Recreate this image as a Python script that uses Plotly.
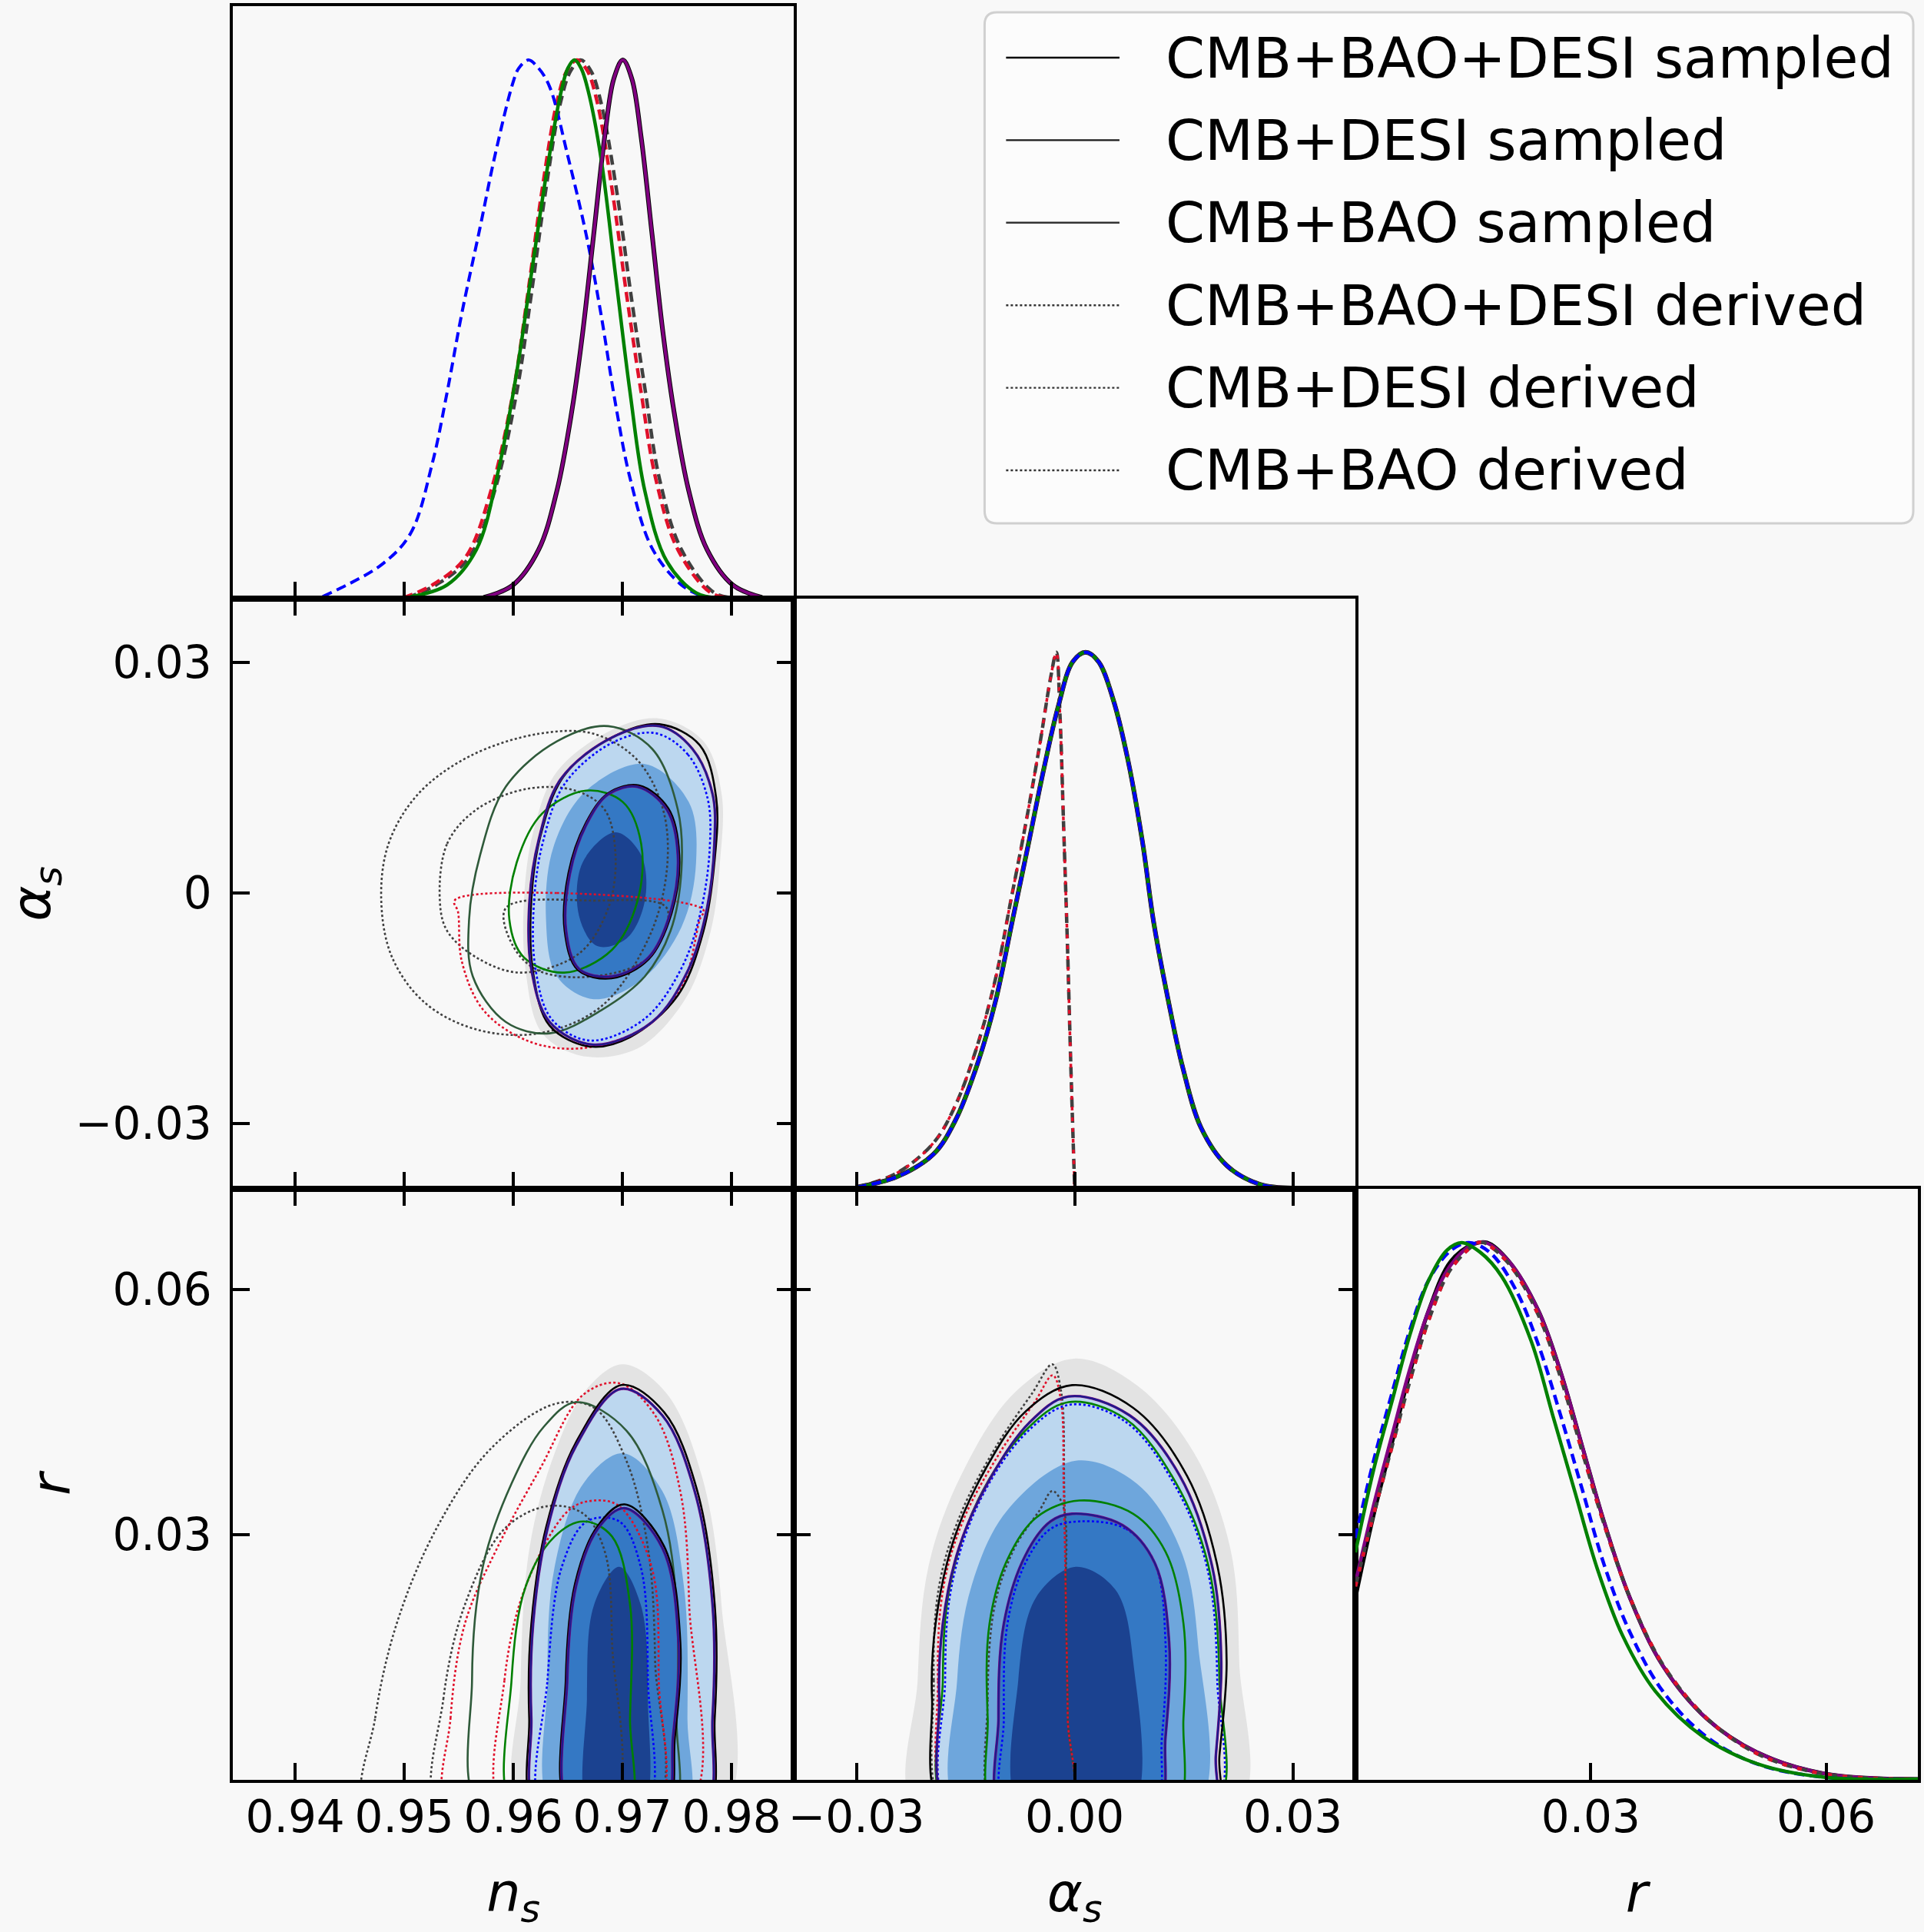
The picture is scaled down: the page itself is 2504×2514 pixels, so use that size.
import plotly.graph_objects as go

# ---------------- axes ----------------
ns_range = [0.9343, 0.9857]
as_range_x = [-0.0386, 0.0386]
as_range_y = [-0.0385, 0.0383]
r_range_x = [0.0, 0.0717]
r_range_y = [0.0, 0.0723]
pdf_range = [0.0, 1.1]

ns_tickvals = [0.94, 0.95, 0.96, 0.97, 0.98]
ns_ticktext = ["0.94", "0.95", "0.96", "0.97", "0.98"]
as_tickvals = [-0.03, 0.0, 0.03]
as_ticktext_x = ["\u22120.03", "0.00", "0.03"]
as_ticktext_y = ["\u22120.03", "0", "0.03"]
r_tickvals = [0.03, 0.06]
r_ticktext = ["0.03", "0.06"]

legend_labels = ["CMB+BAO+DESI sampled", "CMB+DESI sampled", "CMB+BAO sampled",
                 "CMB+BAO+DESI derived", "CMB+DESI derived", "CMB+BAO derived"]

# ---------------- 1D marginals: n_s ----------------
ns_blue_x = [0.94252, 0.94789, 0.95057, 0.95258, 0.95393, 0.95527, 0.95695, 0.95829, 0.95997, 0.96050, 0.96138,
             0.96230, 0.96332, 0.96500, 0.96668, 0.96802, 0.96936, 0.97070, 0.97272, 0.97540, 0.97742]
ns_blue_p = [0.004, 0.0627, 0.1210, 0.2522, 0.3834, 0.5292, 0.6895, 0.8207, 0.9585, 0.985, 1.0,
             0.985, 0.9504, 0.8207, 0.6749, 0.5292, 0.3615, 0.2230, 0.0933, 0.0255, 0.0036]
ns_green_x = [0.95057, 0.95393, 0.95661, 0.95862, 0.96030, 0.96164, 0.96299, 0.96433, 0.96500, 0.96560,
              0.96620, 0.96685, 0.96802, 0.96936, 0.97070, 0.97205, 0.97406, 0.97674, 0.97876]
ns_green_p = [0.0036, 0.0255, 0.0910, 0.2376, 0.4198, 0.6020, 0.7843, 0.9373, 0.985, 1.0,
              0.985, 0.9431, 0.8192, 0.6006, 0.3819, 0.1997, 0.0693, 0.0109, 0.0015]
ns_red_x = [0.94990, 0.95258, 0.95560, 0.95795, 0.95997, 0.96131, 0.96265, 0.96399, 0.96490, 0.96584,
            0.96678, 0.96768, 0.96903, 0.97037, 0.97171, 0.97305, 0.97507, 0.97809, 0.98010]
ns_red_p = [0.0015, 0.0255, 0.0765, 0.2005, 0.3827, 0.5649, 0.7617, 0.9219, 0.980, 1.0,
            0.980, 0.9219, 0.7617, 0.5649, 0.3827, 0.2223, 0.0911, 0.0109, 0.0015]
ns_grey_x = [0.95023, 0.95292, 0.95594, 0.95829, 0.96030, 0.96164, 0.96299, 0.96433, 0.96525, 0.96617,
             0.96710, 0.96802, 0.96943, 0.97077, 0.97211, 0.97339, 0.97540, 0.97842, 0.98044]
ns_grey_p = [0.0015, 0.0255, 0.0765, 0.2005, 0.3827, 0.5649, 0.7617, 0.9219, 0.980, 1.0,
             0.980, 0.9219, 0.7617, 0.5649, 0.3827, 0.2223, 0.0911, 0.0109, 0.0015]
ns_black_x = [0.95728, 0.95997, 0.96232, 0.96399, 0.96534, 0.96634, 0.96735, 0.96836, 0.96920, 0.97003,
              0.97086, 0.97171, 0.97272, 0.97372, 0.97473, 0.97607, 0.97775, 0.98010, 0.98279]
ns_black_p = [0.0022, 0.0255, 0.0911, 0.2004, 0.3462, 0.4920, 0.6742, 0.8564, 0.965, 1.0,
              0.965, 0.8564, 0.6742, 0.4920, 0.3462, 0.2004, 0.0911, 0.0255, 0.0022]

# ---------------- 1D marginals: alpha_s ----------------
as_main_x = [-0.03000, -0.02445, -0.01941, -0.01639, -0.01336, -0.01084, -0.00857, -0.00630, -0.00429,
             -0.00227, -0.00025, 0.00151, 0.00328, 0.00529, 0.00731, 0.00933, 0.01084, 0.01286,
             0.01487, 0.01739, 0.02092, 0.02546, 0.03000]
as_main_p = [0.0028, 0.0224, 0.0645, 0.1275, 0.2327, 0.3518, 0.4989, 0.6461, 0.7793,
             0.8984, 0.9825, 1.0, 0.9825, 0.9124, 0.8003, 0.6461, 0.4989, 0.3518,
             0.2256, 0.1135, 0.0434, 0.0084, 0.0014]
as_cut_x = [-0.03000, -0.02445, -0.01941, -0.01639, -0.01336, -0.01084, -0.00882, -0.00681,
            -0.00479, -0.00328, -0.00252, -0.00202, -0.00151, -0.00101, -0.00050, 0.0]
as_cut_p = [0.0028, 0.0294, 0.0855, 0.1556, 0.2677, 0.3938, 0.5340, 0.6741,
            0.8283, 0.9544, 1.0, 0.8844, 0.6741, 0.4639, 0.2186, 0.0028]

# ---------------- 1D marginals: r ----------------
r_green_x = [0.0, 0.00233, 0.00466, 0.00700, 0.00933, 0.01166, 0.01353, 0.01586, 0.01866, 0.02239,
             0.02519, 0.02798, 0.03078, 0.03405, 0.03824, 0.04431, 0.05130, 0.05970, 0.07182]
r_green_p = [0.4233, 0.5781, 0.7046, 0.8312, 0.9297, 0.9859, 1.0, 0.9825, 0.9367, 0.8172,
             0.6765, 0.5359, 0.3952, 0.2687, 0.1646, 0.0802, 0.0295, 0.0049, 0.0014]
r_blue_x = [0.0, 0.00233, 0.00466, 0.00700, 0.00933, 0.01213, 0.01446, 0.01726, 0.02052, 0.02332,
            0.02612, 0.02892, 0.03171, 0.03498, 0.03918, 0.04477, 0.05130, 0.05970, 0.07182]
r_blue_p = [0.4500, 0.5950, 0.7200, 0.8400, 0.9300, 0.9850, 1.0, 0.9800, 0.9100, 0.8100,
            0.6800, 0.5400, 0.4000, 0.2750, 0.1650, 0.0800, 0.0290, 0.0050, 0.0010]
r_black_x = [0.0, 0.00233, 0.00466, 0.00700, 0.00933, 0.01213, 0.01493, 0.01679, 0.01959, 0.02332,
             0.02612, 0.02892, 0.03171, 0.03498, 0.03918, 0.04477, 0.05130, 0.05970, 0.07182]
r_black_p = [0.3390, 0.4937, 0.6273, 0.7609, 0.8734, 0.9648, 0.9965, 1.0, 0.9648, 0.8734,
             0.7609, 0.6203, 0.4796, 0.3390, 0.2124, 0.1139, 0.0506, 0.0120, 0.0014]
r_purple_x = [0.0, 0.00233, 0.00466, 0.00700, 0.00933, 0.01213, 0.01493, 0.01656, 0.01959, 0.02332,
              0.02612, 0.02892, 0.03171, 0.03498, 0.03918, 0.04477, 0.05130, 0.05970, 0.07182]
r_purple_p = [0.3671, 0.5120, 0.6414, 0.7679, 0.8734, 0.9578, 0.9965, 1.0, 0.9648, 0.8734,
              0.7609, 0.6203, 0.4796, 0.3390, 0.2124, 0.1139, 0.0506, 0.0120, 0.0014]
r_red_x = [0.0, 0.00233, 0.00466, 0.00700, 0.00933, 0.01213, 0.01539, 0.01633, 0.01959, 0.02332,
           0.02612, 0.02892, 0.03171, 0.03498, 0.03918, 0.04477, 0.05130, 0.05970, 0.07182]
r_red_p = [0.3600, 0.4950, 0.6200, 0.7450, 0.8550, 0.9500, 0.9980, 1.0, 0.9600, 0.8650,
           0.7500, 0.6100, 0.4750, 0.3400, 0.2150, 0.1150, 0.0480, 0.0110, 0.0014]

# ---------------- 2D: n_s vs alpha_s ----------------
na_halo_ns = [0.97339, 0.97742, 0.97909, 0.97893, 0.97809, 0.97574, 0.97138, 0.96634, 0.96265, 0.96114, 0.96097, 0.96181, 0.96399, 0.96903]
na_halo_as = [0.02270, 0.01974, 0.01283, 0.00395, -0.00493, -0.01382, -0.02023, -0.02122, -0.01826, -0.01036, -0.00099, 0.00789, 0.01579, 0.02122]
na_navy95_ns = [0.97339, 0.97641, 0.97826, 0.97842, 0.97775, 0.97607, 0.97272, 0.96735, 0.96332, 0.96164, 0.96148, 0.96232, 0.96433, 0.96903]
na_navy95_as = [0.02171, 0.01875, 0.01283, 0.00641, -0.00197, -0.00987, -0.01678, -0.01974, -0.01678, -0.00987, -0.00099, 0.00691, 0.01480, 0.02023]
na_mid_ns = [0.97205, 0.97607, 0.97674, 0.97540, 0.97171, 0.96735, 0.96399, 0.96299, 0.96366, 0.96668]
na_mid_as = [0.01678, 0.01184, 0.00395, -0.00444, -0.01135, -0.01382, -0.01085, -0.00345, 0.00592, 0.01332]
na_navy68_ns = [0.97138, 0.97406, 0.97507, 0.97440, 0.97238, 0.96903, 0.96601, 0.96483, 0.96517, 0.96668, 0.96869]
na_navy68_as = [0.01382, 0.01085, 0.00493, -0.00247, -0.00839, -0.01085, -0.00987, -0.00493, 0.00247, 0.00888, 0.01283]
na_core_ns = [0.96936, 0.97171, 0.97205, 0.97037, 0.96768, 0.96601, 0.96634]
na_core_as = [0.00789, 0.00493, -0.00099, -0.00592, -0.00691, -0.00296, 0.00395]
na_black95_ns = [0.97339, 0.97708, 0.97859, 0.97842, 0.97742, 0.97507, 0.97070, 0.96701, 0.96332, 0.96181, 0.96164, 0.96248, 0.96466, 0.96936]
na_black95_as = [0.02196, 0.01924, 0.01233, 0.00395, -0.00493, -0.01332, -0.01875, -0.01998, -0.01727, -0.01036, -0.00099, 0.00740, 0.01529, 0.02048]
na_black68_ns = [0.97150, 0.97420, 0.97520, 0.97450, 0.97240, 0.96900, 0.96590, 0.96470, 0.96505, 0.96660, 0.96870]
na_black68_as = [0.01400, 0.01100, 0.00493, -0.00260, -0.00860, -0.01110, -0.01000, -0.00493, 0.00260, 0.00900, 0.01300]
na_green95_ns = [0.96869, 0.97272, 0.97507, 0.97540, 0.97440, 0.97205, 0.96802, 0.96332, 0.95930, 0.95628, 0.95594, 0.95695, 0.95930, 0.96399]
na_green95_as = [0.02171, 0.01875, 0.01085, 0.00296, -0.00493, -0.01085, -0.01529, -0.01826, -0.01678, -0.01085, -0.00345, 0.00493, 0.01382, 0.01973]
na_green68_ns = [0.96668, 0.97003, 0.97171, 0.97138, 0.96903, 0.96466, 0.96097, 0.95963, 0.96030, 0.96265]
na_green68_as = [0.01332, 0.01184, 0.00641, -0.00099, -0.00740, -0.01036, -0.00839, -0.00345, 0.00395, 0.01036]
na_grey95_ns = [0.94789, 0.94856, 0.95124, 0.95594, 0.96232, 0.96735, 0.97138, 0.97372, 0.97406, 0.97238, 0.96802, 0.96232, 0.95661, 0.95191, 0.94889]
na_grey95_as = [-0.00099, 0.00641, 0.01283, 0.01776, 0.02072, 0.02072, 0.01727, 0.01085, 0.00296, -0.00592, -0.01480, -0.01826, -0.01776, -0.01431, -0.00839]
na_grey68_ns = [0.95326, 0.95393, 0.95661, 0.96131, 0.96567, 0.96836, 0.96936, 0.96869, 0.96601, 0.96064, 0.95661, 0.95393]
na_grey68_as = [-0.00099, 0.00641, 0.01085, 0.01357, 0.01332, 0.01085, 0.00493, -0.00197, -0.00789, -0.01036, -0.00839, -0.00493]
na_red95_ns = [0.95460, 0.96399, 0.97742, 0.97708, 0.97540, 0.97171, 0.96601, 0.96131, 0.95728, 0.95527, 0.95493]
na_red95_as = [-0.00099, 0.0, -0.00222, -0.00345, -0.01233, -0.01776, -0.02023, -0.01924, -0.01529, -0.00888, -0.00247]
na_red68_ns = [0.95930, 0.96735, 0.97406, 0.97238, 0.96735, 0.96232, 0.95997]
na_red68_as = [-0.00197, -0.00099, -0.00197, -0.00839, -0.01085, -0.01011, -0.00691]
na_blue95_ns = [0.97300, 0.97600, 0.97780, 0.97800, 0.97720, 0.97540, 0.97200, 0.96700, 0.96350, 0.96200, 0.96190, 0.96270, 0.96470, 0.96900]
na_blue95_as = [0.02080, 0.01800, 0.01230, 0.00600, -0.00220, -0.00980, -0.01640, -0.01920, -0.01640, -0.00960, -0.00100, 0.00660, 0.01420, 0.01950]

# ---------------- 2D: n_s vs r ----------------
nr_halo_ns = [0.97003, 0.97398, 0.97727, 0.97907, 0.97907, 0.96082, 0.96066, 0.96148, 0.96378, 0.96674]
nr_halo_r = [0.05084, 0.04737, 0.03718, 0.02144, -0.004, -0.004, 0.01218, 0.02838, 0.03996, 0.04783]
nr_navy95_ns = [0.96986, 0.97365, 0.97661, 0.97825, 0.97825, 0.97727, 0.96246, 0.96164, 0.96181, 0.96312, 0.96575]
nr_navy95_r = [0.04783, 0.04459, 0.03533, 0.02144, 0.00755, -0.004, -0.004, 0.00755, 0.01912, 0.03070, 0.04088]
nr_mid_ns = [0.97003, 0.97365, 0.97562, 0.97595, 0.97562, 0.96378, 0.96312, 0.96378, 0.96641]
nr_mid_r = [0.03996, 0.03533, 0.02375, 0.00755, -0.004, -0.004, 0.01218, 0.02607, 0.03625]
nr_navy68_ns = [0.97019, 0.97365, 0.97513, 0.97463, 0.97365, 0.96542, 0.96493, 0.96575, 0.96773]
nr_navy68_r = [0.03324, 0.02838, 0.01681, 0.00523, -0.004, -0.004, 0.01218, 0.02375, 0.03070]
nr_core_ns = [0.96970, 0.97167, 0.97233, 0.97167, 0.96707, 0.96674, 0.96740]
nr_core_r = [0.02607, 0.02144, 0.00986, -0.004, -0.004, 0.00986, 0.02144]
nr_black95_ns = [0.96990, 0.97380, 0.97680, 0.97845, 0.97845, 0.97745, 0.96225, 0.96145, 0.96165, 0.96300, 0.96570]
nr_black95_r = [0.04830, 0.04500, 0.03560, 0.02144, 0.00755, -0.004, -0.004, 0.00755, 0.01912, 0.03090, 0.04120]
nr_black68_ns = [0.97019, 0.97380, 0.97530, 0.97480, 0.97380, 0.96530, 0.96480, 0.96565, 0.96770]
nr_black68_r = [0.03370, 0.02860, 0.01681, 0.00523, -0.004, -0.004, 0.01218, 0.02400, 0.03100]
nr_green95_ns = [0.96575, 0.97036, 0.97365, 0.97496, 0.97496, 0.97430, 0.95720, 0.95621, 0.95720, 0.95983, 0.96279]
nr_green95_r = [0.04621, 0.04273, 0.03301, 0.02144, 0.00755, -0.004, -0.004, 0.01218, 0.02607, 0.03625, 0.04320]
nr_green68_ns = [0.96641, 0.96904, 0.97069, 0.97069, 0.97036, 0.96016, 0.95983, 0.96115, 0.96378]
nr_green68_r = [0.03162, 0.02977, 0.02144, 0.00755, -0.004, -0.004, 0.01218, 0.02375, 0.02977]
nr_grey95_ns = [0.94668, 0.94733, 0.94931, 0.95293, 0.95786, 0.96378, 0.96740, 0.97036, 0.97233, 0.97299, 0.97266]
nr_grey95_r = [-0.004, 0.00755, 0.01912, 0.03070, 0.04042, 0.04598, 0.04551, 0.03903, 0.02838, 0.01449, -0.004]
nr_grey68_ns = [0.95325, 0.95358, 0.95556, 0.95918, 0.96312, 0.96641, 0.96838, 0.96904, 0.96871]
nr_grey68_r = [-0.004, 0.00986, 0.02144, 0.03070, 0.03348, 0.03255, 0.02792, 0.01681, -0.004]
nr_red95_ns = [0.95424, 0.95424, 0.95556, 0.95852, 0.96246, 0.96641, 0.96970, 0.97299, 0.97529, 0.97611, 0.97578]
nr_red95_r = [-0.004, 0.00755, 0.01912, 0.02838, 0.03810, 0.04713, 0.04852, 0.04459, 0.03533, 0.02144, -0.004]
nr_red68_ns = [0.95918, 0.95918, 0.96115, 0.96510, 0.96740, 0.96970, 0.97266, 0.97332, 0.97299]
nr_red68_r = [-0.004, 0.01218, 0.02375, 0.03301, 0.03417, 0.03348, 0.02607, 0.01218, -0.004]
nr_blue68_ns = [0.96279, 0.96312, 0.96444, 0.96674, 0.96970, 0.97167, 0.97233, 0.97200]
nr_blue68_r = [-0.004, 0.01218, 0.02607, 0.03162, 0.03162, 0.02607, 0.01218, -0.004]

# ---------------- 2D: alpha_s vs r ----------------
ar_halo_as = [-0.00010, 0.00854, 0.01644, 0.02138, 0.02262, 0.02212, -0.02158, -0.02158, -0.02010, -0.01565, -0.00825]
ar_halo_r = [0.05153, 0.04829, 0.03996, 0.02838, 0.01449, -0.004, -0.004, 0.01218, 0.02607, 0.03718, 0.04737]
ar_navy95_as = [-0.00084, 0.00756, 0.01447, 0.01891, 0.02015, 0.01941, 0.01867, -0.01689, -0.01862, -0.01812, -0.01590, -0.01170, -0.00627]
ar_navy95_r = [0.04690, 0.04459, 0.03718, 0.02607, 0.01449, 0.00292, -0.004, -0.004, 0.00986, 0.01912, 0.02838, 0.03672, 0.04366]
ar_mid_as = [0.00015, 0.00854, 0.01447, 0.01694, 0.01644, -0.01565, -0.01615, -0.01417, -0.00923]
ar_mid_r = [0.03903, 0.03625, 0.02838, 0.01681, -0.004, -0.004, 0.01218, 0.02375, 0.03301]
ar_navy68_as = [-0.00035, 0.00657, 0.01101, 0.01299, 0.01249, 0.01101, -0.00973, -0.01047, -0.00973, -0.00677, -0.00331]
ar_navy68_r = [0.03255, 0.03116, 0.02653, 0.01681, 0.00523, -0.004, -0.004, 0.00755, 0.01912, 0.02746, 0.03162]
ar_core_as = [0.00015, 0.00558, 0.00805, 0.00756, -0.00726, -0.00775, -0.00528]
ar_core_r = [0.02607, 0.02329, 0.01449, -0.004, -0.004, 0.01218, 0.02236]
ar_black95_as = [-0.00035, 0.00805, 0.01546, 0.01965, 0.02089, 0.01990, 0.01916, -0.01763, -0.01960, -0.01911, -0.01664, -0.01220, -0.00677]
ar_black95_r = [0.04829, 0.04551, 0.03718, 0.02607, 0.01449, 0.00292, -0.004, -0.004, 0.00986, 0.01912, 0.02931, 0.03810, 0.04505]
ar_green95_as = [-0.00084, 0.00706, 0.01397, 0.01842, 0.01990, 0.01891, -0.01714, -0.01812, -0.01714, -0.01318, -0.00677]
ar_green95_r = [0.04621, 0.04412, 0.03625, 0.02607, 0.01218, -0.004, -0.004, 0.01218, 0.02375, 0.03440, 0.04273]
ar_green68_as = [0.00064, 0.00805, 0.01249, 0.01496, 0.01496, 0.01348, -0.01072, -0.01195, -0.01170, -0.00923, -0.00528]
ar_green68_r = [0.03417, 0.03255, 0.02792, 0.01912, 0.00755, -0.004, -0.004, 0.00755, 0.01912, 0.02699, 0.03209]
ar_grey95_as = [-0.01763, -0.01936, -0.01862, -0.01565, -0.01072, -0.00578, -0.00306, -0.00183, -0.00143, -0.00119, -0.00094, -0.00084]
ar_grey95_r = [-0.004, 0.01218, 0.02375, 0.03255, 0.04088, 0.04737, 0.05084, 0.04737, 0.03533, 0.02144, 0.00755, -0.004]
ar_grey68_as = [-0.01096, -0.01195, -0.01096, -0.00825, -0.00479, -0.00306, -0.00158, -0.00123, -0.00094, -0.00084]
ar_grey68_r = [-0.004, 0.00986, 0.02144, 0.02838, 0.03301, 0.03533, 0.03348, 0.02144, 0.00755, -0.004]
ar_red95_as = [-0.01714, -0.01880, -0.01800, -0.01520, -0.01030, -0.00550, -0.00300, -0.00190, -0.00150, -0.00120, -0.00095, -0.00085]
ar_red95_r = [-0.004, 0.01218, 0.02375, 0.03200, 0.04000, 0.04620, 0.04950, 0.04650, 0.03533, 0.02144, 0.00755, -0.004]
ar_blue95_as = [-0.00060, 0.00700, 0.01380, 0.01820, 0.01960, 0.01870, -0.01690, -0.01780, -0.01690, -0.01300, -0.00660]
ar_blue95_r = [0.04590, 0.04380, 0.03600, 0.02600, 0.01218, -0.004, -0.004, 0.01218, 0.02375, 0.03420, 0.04250]
ar_blue68_as = [0.00064, 0.00706, 0.01101, 0.01249, 0.01200, 0.01052, -0.00923, -0.00973, -0.00923, -0.00677, -0.00331]
ar_blue68_r = [0.03162, 0.03070, 0.02653, 0.01681, 0.00523, -0.004, -0.004, 0.00755, 0.01912, 0.02653, 0.03070]

# ---------------- styling ----------------
FONT = "DejaVu Sans"
BG = "#f8f8f8"
BLACK, PURPLE, GREEN = "#000000", "#800080", "#008000"
NAVY, BLUE, RED, GREY = "#1c1c8c", "#0000ff", "#e0102a", "#404040"
SHADES = ["#e3e3e3", "#bcd7ef", "#6ea6dc", "#3478c4", "#1b4290"]

P11, P21, P22 = ("x", "y"), ("x2", "y2"), ("x3", "y3")
P31, P32, P33 = ("x4", "y4"), ("x5", "y5"), ("x6", "y6")

fig = go.Figure()


def ring(xs, ys):
    return list(xs) + [xs[0]], list(ys) + [ys[0]]


def curve(xs, ys, ax, color, width, dash="solid"):
    fig.add_trace(go.Scatter(x=xs, y=ys, xaxis=ax[0], yaxis=ax[1], mode="lines",
                             line=dict(color=color, width=width, dash=dash, shape="spline"),
                             hoverinfo="skip", showlegend=False))


def contour(xs, ys, ax, color, dash="solid", width=2.6):
    cx, cy = ring(xs, ys)
    curve(cx, cy, ax, color, width, dash)


def shade(xs, ys, ax, color):
    cx, cy = ring(xs, ys)
    fig.add_trace(go.Scatter(x=cx, y=cy, xaxis=ax[0], yaxis=ax[1], mode="lines",
                             fill="toself", fillcolor=color,
                             line=dict(width=0, shape="spline", color=color),
                             hoverinfo="skip", showlegend=False))


DASH = "13px,7px"
DOT = "3px,3px"

# 1D n_s
curve(ns_grey_x, ns_grey_p, P11, GREY, 4.5, DASH)
curve(ns_red_x, ns_red_p, P11, RED, 4.5, DASH)
curve(ns_blue_x, ns_blue_p, P11, BLUE, 4, DASH)
curve(ns_black_x, ns_black_p, P11, BLACK, 6)
curve(ns_green_x, ns_green_p, P11, GREEN, 4.5)
curve(ns_black_x, ns_black_p, P11, PURPLE, 4)

# 1D alpha_s
curve(as_cut_x, as_cut_p, P22, GREY, 4.5, DASH)
curve(as_cut_x, as_cut_p, P22, RED, 3.5, "5px,9px")
curve(as_main_x, as_main_p, P22, BLACK, 6)
curve(as_main_x, as_main_p, P22, PURPLE, 5)
curve(as_main_x, as_main_p, P22, GREEN, 4.5)
curve(as_main_x, as_main_p, P22, BLUE, 4, DASH)

# 1D r
curve(r_black_x, r_black_p, P33, BLACK, 5)
curve(r_purple_x, r_purple_p, P33, PURPLE, 4.5)
curve(r_red_x, r_red_p, P33, GREY, 4.5, DASH)
curve(r_red_x, r_red_p, P33, RED, 4.5, "6px,14px")
curve(r_blue_x, r_blue_p, P33, BLUE, 4.5, DASH)
curve(r_green_x, r_green_p, P33, GREEN, 4.5)

# 2D n_s - alpha_s
for (xs, ys), col in zip([(na_halo_ns, na_halo_as), (na_navy95_ns, na_navy95_as), (na_mid_ns, na_mid_as),
                          (na_navy68_ns, na_navy68_as), (na_core_ns, na_core_as)], SHADES):
    shade(xs, ys, P21, col)
contour(na_grey95_ns, na_grey95_as, P21, GREY, DOT)
contour(na_grey68_ns, na_grey68_as, P21, GREY, DOT)
contour(na_red95_ns, na_red95_as, P21, RED, DOT)
contour(na_red68_ns, na_red68_as, P21, GREY, DOT)
contour(na_blue95_ns, na_blue95_as, P21, BLUE, DOT)
contour(na_green95_ns, na_green95_as, P21, "#2f5a3a")
contour(na_green68_ns, na_green68_as, P21, GREEN)
contour(na_black95_ns, na_black95_as, P21, BLACK)
contour(na_black68_ns, na_black68_as, P21, BLACK)
contour(na_navy95_ns, na_navy95_as, P21, PURPLE, width=3.4)
contour(na_navy68_ns, na_navy68_as, P21, PURPLE, width=3.4)
contour(na_navy95_ns, na_navy95_as, P21, NAVY, width=2.2)
contour(na_navy68_ns, na_navy68_as, P21, NAVY, width=2.2)

# 2D n_s - r
for (xs, ys), col in zip([(nr_halo_ns, nr_halo_r), (nr_navy95_ns, nr_navy95_r), (nr_mid_ns, nr_mid_r),
                          (nr_navy68_ns, nr_navy68_r), (nr_core_ns, nr_core_r)], SHADES):
    shade(xs, ys, P31, col)
contour(nr_grey95_ns, nr_grey95_r, P31, GREY, DOT)
contour(nr_grey68_ns, nr_grey68_r, P31, GREY, DOT)
contour(nr_red95_ns, nr_red95_r, P31, RED, DOT)
contour(nr_red68_ns, nr_red68_r, P31, RED, DOT)
contour(nr_blue68_ns, nr_blue68_r, P31, BLUE, DOT)
contour(nr_green95_ns, nr_green95_r, P31, "#2f5a3a")
contour(nr_green68_ns, nr_green68_r, P31, GREEN)
contour(nr_black95_ns, nr_black95_r, P31, BLACK)
contour(nr_black68_ns, nr_black68_r, P31, BLACK)
contour(nr_navy95_ns, nr_navy95_r, P31, PURPLE, width=3.4)
contour(nr_navy68_ns, nr_navy68_r, P31, PURPLE, width=3.4)
contour(nr_navy95_ns, nr_navy95_r, P31, NAVY, width=2.2)
contour(nr_navy68_ns, nr_navy68_r, P31, NAVY, width=2.2)

# 2D alpha_s - r
for (xs, ys), col in zip([(ar_halo_as, ar_halo_r), (ar_navy95_as, ar_navy95_r), (ar_mid_as, ar_mid_r),
                          (ar_navy68_as, ar_navy68_r), (ar_core_as, ar_core_r)], SHADES):
    shade(xs, ys, P32, col)
contour(ar_grey95_as, ar_grey95_r, P32, GREY, DOT)
contour(ar_grey68_as, ar_grey68_r, P32, GREY, DOT)
contour(ar_red95_as, ar_red95_r, P32, RED, DOT)
contour(ar_blue95_as, ar_blue95_r, P32, BLUE, DOT)
contour(ar_blue68_as, ar_blue68_r, P32, BLUE, DOT)
contour(ar_green95_as, ar_green95_r, P32, GREEN)
contour(ar_green68_as, ar_green68_r, P32, GREEN)
contour(ar_black95_as, ar_black95_r, P32, BLACK)
contour(ar_navy95_as, ar_navy95_r, P32, PURPLE, width=3.4)
contour(ar_navy68_as, ar_navy68_r, P32, PURPLE, width=3.4)
contour(ar_navy95_as, ar_navy95_r, P32, NAVY, width=2.2)
contour(ar_navy68_as, ar_navy68_r, P32, NAVY, width=2.2)

# ---------------- layout ----------------
W, H = 2504, 2514
cols = [(297 / W, 1029 / W), (1029 / W, 1762 / W), (1762 / W, 2496 / W)]
rows = [(1 - 779 / H, 1 - 8 / H), (1 - 1547 / H, 1 - 779 / H), (1 - 2316 / H, 1 - 1547 / H)]

TICKFONT = dict(family=FONT, size=58, color="black")
TITLEFONT = dict(family=FONT, size=70, color="black")


def axis(domain, rng, anchor, tickvals=None, ticktext=None, labels=False, mirror="ticks", title=None,
         standoff=42, lab_off=12):
    d = dict(domain=list(domain), range=rng, anchor=anchor, showgrid=False, zeroline=False,
             showline=True, linecolor="black", linewidth=4, mirror=mirror,
             tickfont=TICKFONT, showticklabels=labels, ticklabelstandoff=lab_off)
    if tickvals is None:
        d.update(ticks="", showticklabels=False)
    else:
        d.update(ticks="inside", ticklen=22, tickwidth=3.5, tickcolor="black", tickvals=tickvals,
                 ticktext=ticktext if ticktext else [str(v) for v in tickvals])
    if title:
        d["title"] = dict(text=title, font=TITLEFONT, standoff=standoff)
    return d


t_ns = "<i>n</i><sub><i>s</i></sub>"
t_as = "<i>\u03b1</i><sub><i>s</i></sub>"
t_r = "<i>r</i>"

fig.update_layout(
    width=W, height=H, autosize=False,
    margin=dict(l=0, r=0, t=0, b=0),
    paper_bgcolor=BG, plot_bgcolor=BG,
    showlegend=False,
    font=dict(family=FONT, color="black"),
    xaxis=axis(cols[0], ns_range, "y", ns_tickvals, ns_ticktext, mirror=True),
    yaxis=axis(rows[0], pdf_range, "x", mirror=True),
    xaxis2=axis(cols[0], ns_range, "y2", ns_tickvals, ns_ticktext),
    yaxis2=axis(rows[1], as_range_y, "x2", as_tickvals, as_ticktext_y, labels=True, title=t_as, standoff=34),
    xaxis3=axis(cols[1], as_range_x, "y3", as_tickvals, as_ticktext_x, mirror=True),
    yaxis3=axis(rows[1], pdf_range, "x3", mirror=True),
    xaxis4=axis(cols[0], ns_range, "y4", ns_tickvals, ns_ticktext, labels=True, title=t_ns, lab_off=-6),
    yaxis4=axis(rows[2], r_range_y, "x4", r_tickvals, r_ticktext, labels=True, title=t_r, standoff=34),
    xaxis5=axis(cols[1], as_range_x, "y5", as_tickvals, as_ticktext_x, labels=True, title=t_as, lab_off=-6),
    yaxis5=axis(rows[2], r_range_y, "x5", r_tickvals, r_ticktext),
    xaxis6=axis(cols[2], r_range_x, "y6", r_tickvals, r_ticktext, labels=True, mirror=True, title=t_r,
                lab_off=-6),
    yaxis6=axis(rows[2], pdf_range, "x6", mirror=True),
)

# ---------------- legend box (drawn by hand to match long line samples) ----------------
lx0, lx1 = 1278 / W, 2490 / W
ly1, ly0 = 1 - 16 / H, 1 - 681 / H
rx, ry = 16 / W, 16 / H
box = (f"M{lx0 + rx},{ly1} L{lx1 - rx},{ly1} Q{lx1},{ly1} {lx1},{ly1 - ry} "
       f"L{lx1},{ly0 + ry} Q{lx1},{ly0} {lx1 - rx},{ly0} L{lx0 + rx},{ly0} "
       f"Q{lx0},{ly0} {lx0},{ly0 + ry} L{lx0},{ly1 - ry} Q{lx0},{ly1} {lx0 + rx},{ly1} Z")
shapes = [dict(type="path", path=box, xref="paper", yref="paper",
               fillcolor="rgba(252,252,252,0.9)", line=dict(color="#d0d0d0", width=3), layer="above")]
annotations = []
legend_dash = ["solid", "solid", "solid", "dot", "dot", "dot"]
legend_color = ["#000000", "#1a1a1a", "#333333", "#333333", "#333333", "#333333"]
for i, lab in enumerate(legend_labels):
    yy = 1 - (75 + i * 107.4) / H
    shapes.append(dict(type="line", xref="paper", yref="paper", x0=1306 / W, x1=1454 / W, y0=yy, y1=yy,
                       line=dict(color=legend_color[i], width=2.4, dash=legend_dash[i]), layer="above"))
    annotations.append(dict(text=lab, xref="paper", yref="paper", x=1512 / W, y=yy, xanchor="left",
                            yanchor="middle", showarrow=False, font=dict(family=FONT, size=73, color="black")))
fig.update_layout(shapes=shapes, annotations=annotations)

# the page's default body margin would push the figure off the bottom edge
fig.write_html("out.html", config={"displayModeBar": False},
               post_script="document.body.style.margin='0';")
